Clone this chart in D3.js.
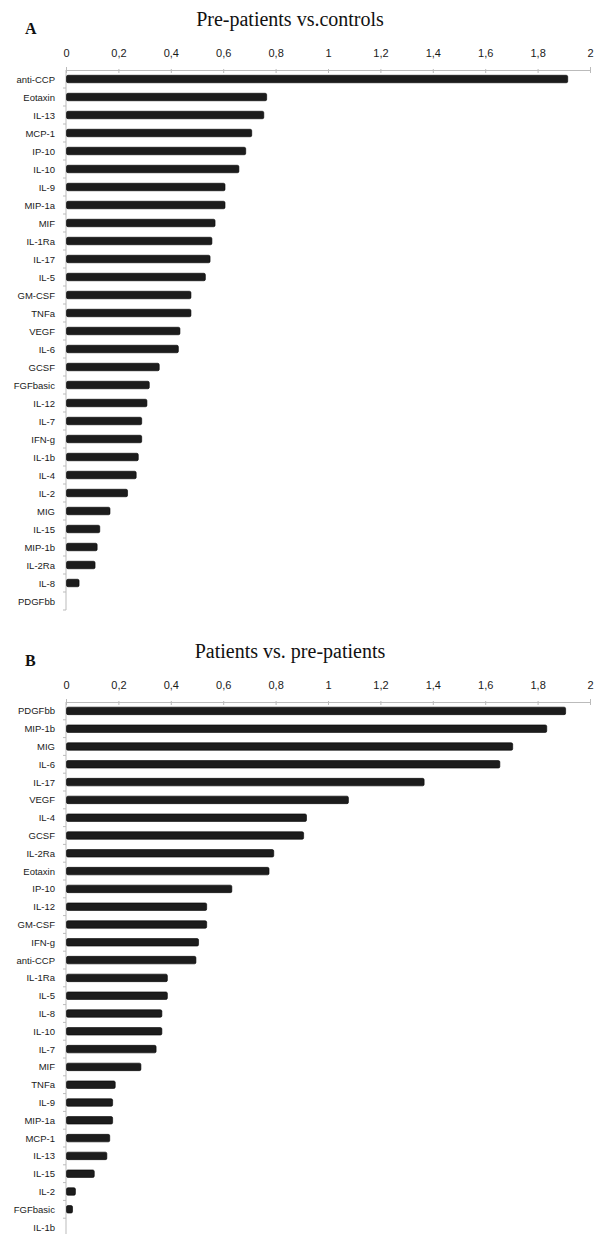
<!DOCTYPE html>
<html>
<head>
<meta charset="utf-8">
<script src="https://cdn.jsdelivr.net/npm/d3@7"></script>
<style>
  body { margin: 0; background: #fff; }
  .cat { font-family: "Liberation Sans", Arial, sans-serif; font-size: 9.5px; fill: #1a1a1a; }
  .tick-lbl { font-family: "Liberation Sans", Arial, sans-serif; font-size: 11px; fill: #1a1a1a; }
  .title { font-family: "Liberation Serif", "Times New Roman", serif; font-size: 20px; fill: #111; }
  .letter { font-family: "Liberation Serif", "Times New Roman", serif; font-size: 16px; font-weight: bold; fill: #111; }
</style>
</head>
<body>
<svg id="chart" width="595" height="1234"></svg>
<script>
// panel A: pre-patients vs controls
var catsA = ["anti-CCP", "Eotaxin", "IL-13", "MCP-1", "IP-10", "IL-10", "IL-9", "MIP-1a", "MIF", "IL-1Ra",
             "IL-17", "IL-5", "GM-CSF", "TNFa", "VEGF", "IL-6", "GCSF", "FGFbasic", "IL-12", "IL-7",
             "IFN-g", "IL-1b", "IL-4", "IL-2", "MIG", "IL-15", "MIP-1b", "IL-2Ra", "IL-8", "PDGFbb"];
var valsA = [1.913, 0.764, 0.753, 0.707, 0.684, 0.658, 0.605, 0.605, 0.567, 0.555,
             0.548, 0.53, 0.475, 0.475, 0.433, 0.427, 0.354, 0.316, 0.307, 0.287,
             0.287, 0.274, 0.266, 0.233, 0.166, 0.127, 0.117, 0.109, 0.048, 0];

// panel B: patients vs pre-patients
var catsB = ["PDGFbb", "MIP-1b", "MIG", "IL-6", "IL-17", "VEGF", "IL-4", "GCSF", "IL-2Ra", "Eotaxin",
             "IP-10", "IL-12", "GM-CSF", "IFN-g", "anti-CCP", "IL-1Ra", "IL-5", "IL-8", "IL-10", "IL-7",
             "MIF", "TNFa", "IL-9", "MIP-1a", "MCP-1", "IL-13", "IL-15", "IL-2", "FGFbasic", "IL-1b"];
var valsB = [1.905, 1.833, 1.703, 1.654, 1.365, 1.076, 0.916, 0.905, 0.791, 0.773,
             0.631, 0.535, 0.535, 0.504, 0.494, 0.385, 0.385, 0.364, 0.364, 0.342,
             0.284, 0.186, 0.176, 0.176, 0.165, 0.154, 0.106, 0.034, 0.023, 0];

var xTicks = [0, 0.2, 0.4, 0.6, 0.8, 1, 1.2, 1.4, 1.6, 1.8, 2];

var svg = d3.select("#chart");

function drawPanel(letter, title, cats, vals, top, rowH) {
    var x = d3.scaleLinear().domain([0, 2]).range([66, 590]);
    var y = d3.scaleBand().domain(cats).range([top, top + cats.length * rowH]);
    var g = svg.append("g");

    g.append("text").attr("class", "letter")
        .attr("x", 25).attr("y", top - 36).text(letter);
    g.append("text").attr("class", "title")
        .attr("x", 290).attr("y", top - 44)
        .attr("text-anchor", "middle").text(title);

    // top axis
    var xa = g.append("g").attr("transform", "translate(0," + top + ")")
        .call(d3.axisTop(x).tickValues(xTicks).tickSize(3)
            .tickFormat(function(d) { return String(d).replace(".", ","); }));
    xa.select(".domain").attr("stroke", "#bbb");
    xa.selectAll(".tick line").attr("stroke", "#bbb").attr("y2", 3).attr("y1", -1);
    xa.selectAll(".tick text").attr("class", "tick-lbl").attr("y", -13)
        .attr("font-family", null).attr("font-size", null);

    // left axis with ticks between categories
    g.append("line")
        .attr("x1", x(0)).attr("x2", x(0))
        .attr("y1", top).attr("y2", y.range()[1])
        .attr("stroke", "#bbb");
    g.selectAll(".sep").data(cats).enter().append("line")
        .attr("x1", x(0) - 3).attr("x2", x(0))
        .attr("y1", function(d) { return y(d) + rowH; })
        .attr("y2", function(d) { return y(d) + rowH; })
        .attr("stroke", "#bbb");

    g.selectAll(".cat").data(cats).enter().append("text")
        .attr("class", "cat")
        .attr("x", 55)
        .attr("y", function(d) { return y(d) + rowH / 2 + 3.5; })
        .attr("text-anchor", "end")
        .text(function(d) { return d; });

    g.selectAll(".bar").data(vals).enter().append("rect")
        .attr("x", x(0) + 0.5)
        .attr("y", function(d, i) { return y(cats[i]) + rowH / 2 - 3.75; })
        .attr("width", function(d) { return Math.max(0, x(d) - x(0)); })
        .attr("height", 7.5)
        .attr("rx", 1.5)
        .attr("fill", "#1c1c1c")
        .attr("stroke", "#000")
        .attr("stroke-width", 0.6);
}

drawPanel("A", "Pre-patients vs.controls", catsA, valsA, 70, 18);
drawPanel("B", "Patients vs. pre-patients", catsB, valsB, 702, 17.8);
</script>
</body>
</html>
